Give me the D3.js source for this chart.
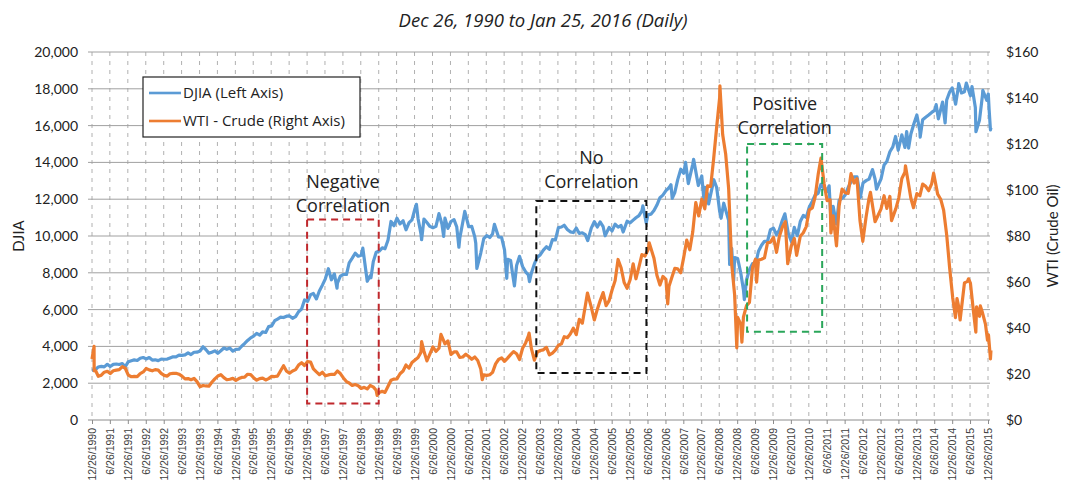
<!DOCTYPE html>
<html>
<head>
<meta charset="utf-8">
<script src="https://cdn.jsdelivr.net/npm/d3@7"></script>
<style>
  body { margin: 0; background: #fff; }
  svg { display: block; }
</style>
</head>
<body>
<div id="chart"></div>
<script>
// DJIA closes (left axis)
var djia = [
  ["1990-12-26",2700],["1991-01-31",2736],["1991-02-28",2882],["1991-03-31",2914],["1991-04-30",2888],["1991-05-31",3028],["1991-06-30",2907],["1991-07-31",3025],["1991-08-31",3044],["1991-09-30",3017],["1991-10-31",3069],["1991-11-30",2895],["1991-12-31",3169],
  ["1992-01-31",3224],["1992-02-29",3267],["1992-03-31",3236],["1992-04-30",3359],["1992-05-31",3397],["1992-06-30",3319],["1992-07-31",3394],["1992-08-31",3257],["1992-09-30",3272],["1992-10-31",3226],["1992-11-30",3305],["1992-12-31",3301],
  ["1993-01-31",3310],["1993-02-28",3370],["1993-03-31",3435],["1993-04-30",3428],["1993-05-31",3527],["1993-06-30",3516],["1993-07-31",3540],["1993-08-31",3651],["1993-09-30",3555],["1993-10-31",3681],["1993-11-30",3684],["1993-12-31",3754],
  ["1994-01-31",3978],["1994-02-28",3832],["1994-03-31",3636],["1994-04-30",3682],["1994-05-31",3758],["1994-06-30",3625],["1994-07-31",3765],["1994-08-31",3913],["1994-09-30",3843],["1994-10-31",3908],["1994-11-30",3739],["1994-12-31",3834],
  ["1995-01-31",3844],["1995-02-28",4011],["1995-03-31",4158],["1995-04-30",4321],["1995-05-31",4465],["1995-06-30",4556],["1995-07-31",4709],["1995-08-31",4611],["1995-09-30",4789],["1995-10-31",4756],["1995-11-30",5075],["1995-12-31",5117],
  ["1996-01-31",5395],["1996-02-29",5486],["1996-03-31",5587],["1996-04-30",5569],["1996-05-31",5643],["1996-06-30",5655],["1996-07-31",5529],["1996-08-31",5616],["1996-09-30",5882],["1996-10-31",6029],["1996-11-30",6522],["1996-12-31",6448],
  ["1997-01-31",6813],["1997-02-28",6878],["1997-03-31",6584],["1997-04-30",7009],["1997-05-31",7331],["1997-06-30",7673],["1997-07-31",8223],["1997-08-31",7622],["1997-09-30",7945],["1997-10-27",7161],["1997-10-31",7442],["1997-11-30",7823],["1997-12-31",7908],
  ["1998-01-31",7907],["1998-02-28",8546],["1998-03-31",8800],["1998-04-30",9063],["1998-05-31",8900],["1998-06-30",8952],["1998-07-17",9338],["1998-08-31",7539],["1998-09-30",7843],["1998-10-08",7731],["1998-10-31",8592],["1998-11-30",9117],["1998-12-31",9181],
  ["1999-01-31",9359],["1999-02-28",9307],["1999-03-31",9786],["1999-04-30",10789],["1999-05-31",10560],["1999-06-30",10971],["1999-07-31",10655],["1999-08-31",10829],["1999-09-30",10337],["1999-10-31",10729],["1999-11-30",10878],["1999-12-31",11497],
  ["2000-01-14",11723],["2000-01-31",10941],["2000-02-29",10128],["2000-03-07",9796],["2000-03-31",10922],["2000-04-30",10734],["2000-05-31",10522],["2000-06-30",10448],["2000-07-31",10522],["2000-08-31",11215],["2000-09-30",10651],["2000-10-18",9975],["2000-10-31",10971],["2000-11-30",10415],["2000-12-31",10788],
  ["2001-01-31",10887],["2001-02-28",10495],["2001-03-22",9389],["2001-03-31",9879],["2001-04-30",10735],["2001-05-21",11337],["2001-06-30",10502],["2001-07-31",10523],["2001-08-31",9950],["2001-09-10",9606],["2001-09-21",8236],["2001-10-31",9075],["2001-11-30",9852],["2001-12-31",10022],
  ["2002-01-31",9920],["2002-02-28",10106],["2002-03-19",10635],["2002-04-30",9946],["2002-05-31",9925],["2002-06-30",9243],["2002-07-23",7702],["2002-07-31",8737],["2002-08-31",8664],["2002-09-30",7592],["2002-10-09",7286],["2002-10-31",8397],["2002-11-30",8896],["2002-12-31",8342],
  ["2003-01-31",8054],["2003-02-28",7891],["2003-03-11",7524],["2003-03-31",7992],["2003-04-30",8480],["2003-05-31",8850],["2003-06-30",8985],["2003-07-31",9234],["2003-08-31",9416],["2003-09-30",9275],["2003-10-31",9801],["2003-11-30",9782],["2003-12-31",10454],
  ["2004-01-31",10488],["2004-02-28",10584],["2004-03-31",10358],["2004-04-30",10226],["2004-05-31",10188],["2004-06-30",10435],["2004-07-31",10140],["2004-08-31",10174],["2004-09-30",10080],["2004-10-25",9750],["2004-11-30",10428],["2004-12-31",10783],
  ["2005-01-31",10490],["2005-02-28",10766],["2005-03-31",10504],["2005-04-20",10012],["2005-05-31",10467],["2005-06-30",10275],["2005-07-31",10641],["2005-08-31",10482],["2005-09-30",10569],["2005-10-21",10215],["2005-11-30",10806],["2005-12-31",10718],
  ["2006-01-31",10865],["2006-02-28",10993],["2006-03-31",11109],["2006-04-30",11367],["2006-05-10",11642],["2006-06-13",10706],["2006-06-30",11150],["2006-07-31",11186],["2006-08-31",11381],["2006-09-30",11679],["2006-10-31",12081],["2006-11-30",12221],["2006-12-31",12463],
  ["2007-01-31",12622],["2007-02-20",12786],["2007-03-05",12050],["2007-03-31",12354],["2007-04-30",13063],["2007-05-31",13628],["2007-06-30",13409],["2007-07-19",14000],["2007-08-16",12846],["2007-09-30",13896],["2007-10-09",14165],["2007-11-26",12743],["2007-12-31",13265],
  ["2008-01-22",11971],["2008-01-31",12650],["2008-02-28",12266],["2008-03-10",11740],["2008-03-31",12263],["2008-05-02",13058],["2008-05-31",12638],["2008-06-30",11350],["2008-07-15",10963],["2008-08-11",11782],["2008-09-30",10851],["2008-10-10",8451],["2008-10-31",9325],["2008-11-20",7552],["2008-11-30",8829],["2008-12-31",8776],
  ["2009-01-31",8001],["2009-02-28",7063],["2009-03-09",6547],["2009-03-31",7609],["2009-04-30",8168],["2009-05-31",8500],["2009-06-30",8447],["2009-07-31",9172],["2009-08-31",9496],["2009-09-30",9712],["2009-10-31",9713],["2009-11-30",10345],["2009-12-31",10428],
  ["2010-01-31",10067],["2010-02-28",10325],["2010-03-31",10857],["2010-04-26",11205],["2010-05-31",10137],["2010-07-02",9686],["2010-07-31",10466],["2010-08-31",10015],["2010-09-30",10788],["2010-10-31",11118],["2010-11-30",11006],["2010-12-31",11578],
  ["2011-01-31",11892],["2011-02-28",12226],["2011-03-31",12320],["2011-04-29",12811],["2011-05-31",12570],["2011-06-30",12414],["2011-07-21",12724],["2011-08-10",10720],["2011-08-31",11614],["2011-10-03",10655],["2011-10-31",11955],["2011-11-30",12046],["2011-12-31",12218],
  ["2012-01-31",12633],["2012-02-29",12952],["2012-03-31",13212],["2012-04-30",13214],["2012-06-04",12101],["2012-06-30",12880],["2012-07-31",13009],["2012-08-31",13091],["2012-10-05",13610],["2012-10-31",13096],["2012-11-15",12543],["2012-12-31",13104],
  ["2013-01-31",13861],["2013-02-28",14054],["2013-03-31",14579],["2013-04-30",14840],["2013-05-28",15409],["2013-06-24",14660],["2013-07-31",15500],["2013-08-31",14810],["2013-09-18",15676],["2013-10-08",14776],["2013-10-31",15546],["2013-11-30",16086],["2013-12-31",16577],
  ["2014-01-31",15699],["2014-02-03",15373],["2014-02-28",16322],["2014-03-31",16458],["2014-04-30",16581],["2014-05-31",16717],["2014-06-30",16827],["2014-07-16",17138],["2014-08-07",16368],["2014-09-19",17280],["2014-10-15",16142],["2014-10-31",17391],["2014-11-30",17828],["2014-12-26",18053],
  ["2015-01-30",17165],["2015-02-28",18133],["2015-03-02",18288],["2015-03-31",17776],["2015-04-30",17841],["2015-05-19",18312],["2015-06-30",17620],["2015-07-16",18120],["2015-08-19",16990],["2015-08-25",15666],["2015-09-30",16285],["2015-10-31",17664],["2015-11-03",17918],["2015-12-14",17368],["2015-12-29",17720],
  ["2016-01-06",16907],["2016-01-20",15766],["2016-01-25",15885]
];

// WTI spot (right axis)
var wti = [
  ["1990-12-26",26.5],["1991-01-16",32.0],["1991-01-17",21.4],["1991-01-31",21.5],["1991-02-28",19.0],["1991-03-31",19.5],["1991-04-30",20.8],["1991-05-31",21.2],["1991-06-30",20.2],["1991-07-31",21.4],["1991-08-31",21.7],["1991-09-30",21.9],["1991-10-31",23.2],["1991-11-30",22.5],["1991-12-31",19.5],
  ["1992-01-31",18.8],["1992-02-29",19.0],["1992-03-31",18.9],["1992-04-30",20.2],["1992-05-31",20.9],["1992-06-30",22.4],["1992-07-31",21.8],["1992-08-31",21.4],["1992-09-30",21.9],["1992-10-31",21.7],["1992-11-30",20.3],["1992-12-31",19.4],
  ["1993-01-31",19.1],["1993-02-28",20.1],["1993-03-31",20.3],["1993-04-30",20.3],["1993-05-31",19.9],["1993-06-30",19.1],["1993-07-31",17.9],["1993-08-31",18.0],["1993-09-30",17.5],["1993-10-31",18.1],["1993-11-30",16.7],["1993-12-31",14.5],
  ["1994-01-31",15.0],["1994-02-28",14.8],["1994-03-31",14.7],["1994-04-30",16.4],["1994-05-31",17.9],["1994-06-30",19.1],["1994-07-31",19.7],["1994-08-31",18.4],["1994-09-30",17.5],["1994-10-31",17.7],["1994-11-30",18.1],["1994-12-31",17.2],
  ["1995-01-31",18.0],["1995-02-28",18.5],["1995-03-31",18.6],["1995-04-30",19.9],["1995-05-31",19.7],["1995-06-30",18.4],["1995-07-31",17.3],["1995-08-31",18.0],["1995-09-30",18.2],["1995-10-31",17.4],["1995-11-30",18.0],["1995-12-31",19.0],
  ["1996-01-31",18.9],["1996-02-29",19.1],["1996-03-31",21.4],["1996-04-30",23.6],["1996-05-31",21.2],["1996-06-30",20.4],["1996-07-31",21.3],["1996-08-31",21.9],["1996-09-30",23.9],["1996-10-31",24.9],["1996-11-30",23.7],["1996-12-31",25.4],
  ["1997-01-31",25.2],["1997-02-28",22.2],["1997-03-31",20.9],["1997-04-30",19.7],["1997-05-31",20.8],["1997-06-30",19.2],["1997-07-31",19.6],["1997-08-31",19.9],["1997-09-30",19.8],["1997-10-31",21.3],["1997-11-30",20.2],["1997-12-31",18.3],
  ["1998-01-31",16.7],["1998-02-28",16.1],["1998-03-31",15.0],["1998-04-30",15.4],["1998-05-31",14.9],["1998-06-30",13.7],["1998-07-31",14.2],["1998-08-31",13.5],["1998-09-30",15.0],["1998-10-31",14.4],["1998-11-30",12.9],["1998-12-10",10.7],["1998-12-31",12.0],
  ["1999-01-31",12.5],["1999-02-28",12.0],["1999-03-31",14.7],["1999-04-30",17.3],["1999-05-31",17.8],["1999-06-30",17.9],["1999-07-31",20.1],["1999-08-31",21.3],["1999-09-30",23.9],["1999-10-31",22.6],["1999-11-30",25.0],["1999-12-31",26.1],
  ["2000-01-31",27.2],["2000-02-29",29.4],["2000-03-07",34.1],["2000-03-31",29.9],["2000-04-30",25.7],["2000-05-31",28.8],["2000-06-30",31.8],["2000-07-31",29.8],["2000-08-31",31.2],["2000-09-20",37.2],["2000-10-31",33.1],["2000-11-30",34.4],["2000-12-31",28.5],
  ["2001-01-31",29.6],["2001-02-28",29.6],["2001-03-31",27.2],["2001-04-30",27.4],["2001-05-31",28.6],["2001-06-30",27.6],["2001-07-31",26.4],["2001-08-31",27.4],["2001-09-30",25.9],["2001-10-31",22.2],["2001-11-15",17.5],["2001-11-30",19.6],["2001-12-31",19.4],
  ["2002-01-31",19.7],["2002-02-28",20.7],["2002-03-31",24.4],["2002-04-30",26.3],["2002-05-31",27.0],["2002-06-30",25.5],["2002-07-31",26.9],["2002-08-31",28.4],["2002-09-30",29.7],["2002-10-31",28.8],["2002-11-30",26.3],["2002-12-31",31.2],
  ["2003-01-31",33.5],["2003-02-28",36.6],["2003-03-07",37.8],["2003-03-31",31.0],["2003-04-30",26.0],["2003-05-31",29.6],["2003-06-30",30.2],["2003-07-31",30.5],["2003-08-31",31.6],["2003-09-30",28.3],["2003-10-31",29.1],["2003-11-30",30.4],["2003-12-31",32.5],
  ["2004-01-31",33.1],["2004-02-28",36.2],["2004-03-31",35.8],["2004-04-30",37.4],["2004-05-31",39.9],["2004-06-30",37.1],["2004-07-31",43.8],["2004-08-31",42.1],["2004-09-30",49.6],["2004-10-22",55.2],["2004-11-30",49.1],["2004-12-31",43.5],
  ["2005-01-31",48.2],["2005-02-28",51.8],["2005-03-31",55.4],["2005-04-30",49.7],["2005-05-31",51.9],["2005-06-30",56.5],["2005-07-31",60.6],["2005-08-30",69.8],["2005-09-30",66.2],["2005-10-31",59.8],["2005-11-30",57.3],["2005-12-31",61.0],
  ["2006-01-31",67.9],["2006-02-28",61.4],["2006-03-31",66.6],["2006-04-30",71.9],["2006-05-31",71.3],["2006-06-30",73.9],["2006-07-14",77.0],["2006-08-31",70.3],["2006-09-30",62.9],["2006-10-31",58.7],["2006-11-30",62.4],["2006-12-31",61.1],
  ["2007-01-18",50.5],["2007-01-31",58.1],["2007-02-28",61.8],["2007-03-31",65.9],["2007-04-30",65.7],["2007-05-31",64.0],["2007-06-30",70.7],["2007-07-31",78.2],["2007-08-31",74.0],["2007-09-30",81.7],["2007-10-31",94.5],["2007-11-30",88.7],["2007-12-31",96.0],
  ["2008-01-31",91.8],["2008-02-28",101.8],["2008-03-31",101.6],["2008-04-30",113.5],["2008-05-31",127.4],["2008-06-30",140.0],["2008-07-03",145.3],["2008-07-31",124.1],["2008-08-31",115.5],["2008-09-30",100.6],["2008-10-31",67.8],["2008-11-30",54.4],["2008-12-22",31.4],["2008-12-31",44.6],
  ["2009-01-31",41.7],["2009-02-12",33.9],["2009-02-28",44.8],["2009-03-31",49.7],["2009-04-30",51.1],["2009-05-31",66.3],["2009-06-30",69.9],["2009-07-12",59.9],["2009-07-31",69.5],["2009-08-31",69.9],["2009-09-30",70.5],["2009-10-31",77.0],["2009-11-30",77.3],["2009-12-31",79.4],
  ["2010-01-31",72.9],["2010-02-28",79.7],["2010-03-31",83.8],["2010-04-30",86.2],["2010-05-25",68.0],["2010-06-30",75.6],["2010-07-31",78.9],["2010-08-24",71.6],["2010-09-30",79.9],["2010-10-31",81.4],["2010-11-30",84.1],["2010-12-31",91.4],
  ["2011-01-31",92.2],["2011-02-28",96.9],["2011-03-31",106.7],["2011-04-29",113.9],["2011-05-31",102.7],["2011-06-30",95.4],["2011-07-31",95.7],["2011-08-08",81.3],["2011-08-31",88.8],["2011-10-04",75.7],["2011-10-31",93.2],["2011-11-30",100.4],["2011-12-31",98.8],
  ["2012-01-31",98.5],["2012-02-29",107.1],["2012-03-31",103.0],["2012-04-30",104.9],["2012-05-31",86.5],["2012-06-28",77.7],["2012-07-31",88.1],["2012-08-31",96.5],["2012-09-14",99.0],["2012-10-31",86.2],["2012-11-30",88.9],["2012-12-31",91.8],
  ["2013-01-31",97.5],["2013-02-28",92.0],["2013-03-31",97.2],["2013-04-17",86.7],["2013-05-31",91.9],["2013-06-30",96.6],["2013-07-31",105.0],["2013-08-31",107.7],["2013-09-06",110.5],["2013-10-31",96.4],["2013-11-27",92.3],["2013-12-31",98.4],
  ["2014-01-31",97.5],["2014-02-28",102.6],["2014-03-31",101.6],["2014-04-30",99.7],["2014-05-31",102.7],["2014-06-20",107.3],["2014-07-31",98.2],["2014-08-31",96.0],["2014-09-30",91.2],["2014-10-31",80.5],["2014-11-30",66.2],["2014-12-31",53.3],
  ["2015-01-28",44.5],["2015-02-13",52.8],["2015-02-28",49.8],["2015-03-17",43.5],["2015-04-30",59.6],["2015-05-31",60.3],["2015-06-10",61.4],["2015-06-30",59.5],["2015-07-31",47.1],["2015-08-24",38.2],["2015-08-31",49.2],["2015-09-30",45.1],["2015-10-09",49.6],["2015-10-31",46.6],["2015-11-30",41.7],["2015-12-21",34.7],["2015-12-31",37.0],
  ["2016-01-20",26.6],["2016-01-25",30.3]
];

var leftTicks = [0, 2000, 4000, 6000, 8000, 10000, 12000, 14000, 16000, 18000, 20000];
var rightTicks = [0, 20, 40, 60, 80, 100, 120, 140, 160];
var titleText = "Dec 26, 1990 to Jan 25, 2016 (Daily)";

// annotation boxes: dates across, DJIA values up and down
var boxes = [
  {from: "1996-12-26", to: "1998-12-26", top: 10900, bottom: 900, color: "#c0282d", label: ["Negative", "Correlation"], lift: 31},
  {from: "2003-05-20", to: "2006-06-15", top: 11900, bottom: 2550, color: "#111", label: ["No", "Correlation"], lift: 37},
  {from: "2009-04-06", to: "2011-05-11", top: 15000, bottom: 4800, color: "#2aa65a", label: ["Positive", "Correlation"], lift: 34}
];

var W = 1066, H = 481;
var mLeft = 92, mRight = 988, mTop = 52, mBottom = 420;
var parse = d3.timeParse("%Y-%m-%d");
var fmt = d3.timeFormat("%-m/%-d/%Y");
var font = "Lato, 'Open Sans', sans-serif";
var font2 = "'Open Sans', sans-serif";

var svg = d3.select("#chart").append("svg")
    .attr("width", W)
    .attr("height", H);

var x = d3.scaleTime()
    .domain([parse("1990-12-26"), parse("2015-12-26")])
    .range([mLeft, mRight]);
var yL = d3.scaleLinear().domain([0, 20000]).range([mBottom, mTop]);
var yR = d3.scaleLinear().domain([0, 160]).range([mBottom, mTop]);

// half-year ticks
var xTicks = [];
for (var yr = 1990; yr <= 2015; yr++) {
    if (yr > 1990) xTicks.push(new Date(yr, 5, 26));
    xTicks.push(new Date(yr, 11, 26));
}

// vertical dashed grid
svg.append("g").selectAll("line")
    .data(xTicks)
    .enter().append("line")
    .attr("x1", function(d){ return x(d); })
    .attr("x2", function(d){ return x(d); })
    .attr("y1", mTop)
    .attr("y2", mBottom)
    .attr("stroke", "#b0b0b0")
    .attr("stroke-width", 1)
    .attr("stroke-dasharray", "4,5");

// horizontal grid
svg.append("g").selectAll("line")
    .data(leftTicks.slice(1))
    .enter().append("line")
    .attr("x1", mLeft - 4)
    .attr("x2", mRight + 2)
    .attr("y1", function(d){ return yL(d); })
    .attr("y2", function(d){ return yL(d); })
    .attr("stroke", "#a0a0a0")
    .attr("stroke-width", 1);

// x axis
var xAxis = svg.append("g")
    .attr("transform", "translate(0," + mBottom + ")")
    .call(d3.axisBottom(x).tickValues(xTicks).tickFormat(fmt).tickSize(4).tickSizeOuter(0));
xAxis.select(".domain").attr("stroke", "#8c8c8c").attr("d", "M" + (mLeft - 4) + ",0H" + (mRight + 2));
xAxis.selectAll(".tick line").attr("stroke", "#8c8c8c");
xAxis.selectAll("text")
    .attr("transform", "rotate(-90)")
    .attr("text-anchor", "end")
    .attr("x", -8)
    .attr("y", 0)
    .attr("dy", "0.35em")
    .attr("fill", "#404040")
    .style("font-family", "'Liberation Sans Narrow', 'Liberation Sans', sans-serif")
    .style("font-size", "10.5px");

// left axis labels
svg.append("g").selectAll("text")
    .data(leftTicks)
    .enter().append("text")
    .attr("x", 78)
    .attr("y", function(d){ return yL(d); })
    .attr("dy", "0.35em")
    .attr("text-anchor", "end")
    .attr("font-family", font)
    .attr("font-size", "14px")
    .attr("fill", "#222")
    .text(d3.format(","));

// right axis labels
svg.append("g").selectAll("text")
    .data(rightTicks)
    .enter().append("text")
    .attr("x", 1006)
    .attr("y", function(d){ return yR(d); })
    .attr("dy", "0.35em")
    .attr("font-family", font)
    .attr("font-size", "14px")
    .attr("fill", "#222")
    .text(function(d){ return "$" + d; });

svg.append("text")
    .attr("transform", "translate(24," + yL(10000) + ") rotate(-90)")
    .attr("text-anchor", "middle")
    .attr("font-family", font)
    .attr("font-size", "15px")
    .attr("fill", "#222")
    .text("DJIA");

svg.append("text")
    .attr("transform", "translate(1058," + yL(10000) + ") rotate(-90)")
    .attr("text-anchor", "middle")
    .attr("font-family", font)
    .attr("font-size", "15px")
    .attr("fill", "#222")
    .text("WTI (Crude Oil)");

svg.append("text")
    .attr("x", 543)
    .attr("y", 27)
    .attr("text-anchor", "middle")
    .attr("font-family", font2)
    .attr("font-style", "italic")
    .attr("font-size", "18.5px")
    .attr("fill", "#222")
    .text(titleText);

// series lines
var lineL = d3.line()
    .x(function(d){ return x(parse(d[0])); })
    .y(function(d){ return yL(d[1]); });
var lineR = d3.line()
    .x(function(d){ return x(parse(d[0])); })
    .y(function(d){ return yR(d[1]); });

svg.append("path")
    .datum(djia)
    .attr("d", lineL)
    .attr("fill", "none")
    .attr("stroke", "#5b9bd5")
    .attr("stroke-width", 3.2)
    .attr("stroke-linejoin", "round");

svg.append("path")
    .datum(wti)
    .attr("d", lineR)
    .attr("fill", "none")
    .attr("stroke", "#ed7d31")
    .attr("stroke-width", 3.2)
    .attr("stroke-linejoin", "round");

// dashed boxes + labels
boxes.forEach(function(b){
    var x0 = x(parse(b.from)), x1 = x(parse(b.to));
    var y0 = yL(b.top), y1 = yL(b.bottom);
    svg.append("rect")
        .attr("x", x0)
        .attr("y", y0)
        .attr("width", x1 - x0)
        .attr("height", y1 - y0)
        .attr("fill", "none")
        .attr("stroke", b.color)
        .attr("stroke-width", 2)
        .attr("stroke-dasharray", "7,5");
    var cx = (x0 + x1) / 2;
    b.label.forEach(function(t, k){
        svg.append("text")
            .attr("x", cx)
            .attr("y", y0 - b.lift + k * 24)
            .attr("text-anchor", "middle")
            .attr("font-family", font2)
            .attr("font-size", "18px")
            .attr("fill", "#222")
            .text(t);
    });
});

// legend
var lg = svg.append("g");
lg.append("rect")
    .attr("x", 143).attr("y", 77)
    .attr("width", 217).attr("height", 60)
    .attr("fill", "#fff")
    .attr("stroke", "#222")
    .attr("stroke-width", 1.2);
var legendItems = [["DJIA (Left Axis)", "#5b9bd5"], ["WTI - Crude (Right Axis)", "#ed7d31"]];
legendItems.forEach(function(it, k){
    var yy = 93 + k * 28;
    lg.append("line")
        .attr("x1", 149).attr("x2", 181)
        .attr("y1", yy).attr("y2", yy)
        .attr("stroke", it[1])
        .attr("stroke-width", 2.6);
    lg.append("text")
        .attr("x", 183).attr("y", yy)
        .attr("dy", "0.35em")
        .attr("font-family", font2)
        .attr("font-size", "15px")
        .attr("fill", "#222")
        .text(it[0]);
});
</script>
</body>
</html>
